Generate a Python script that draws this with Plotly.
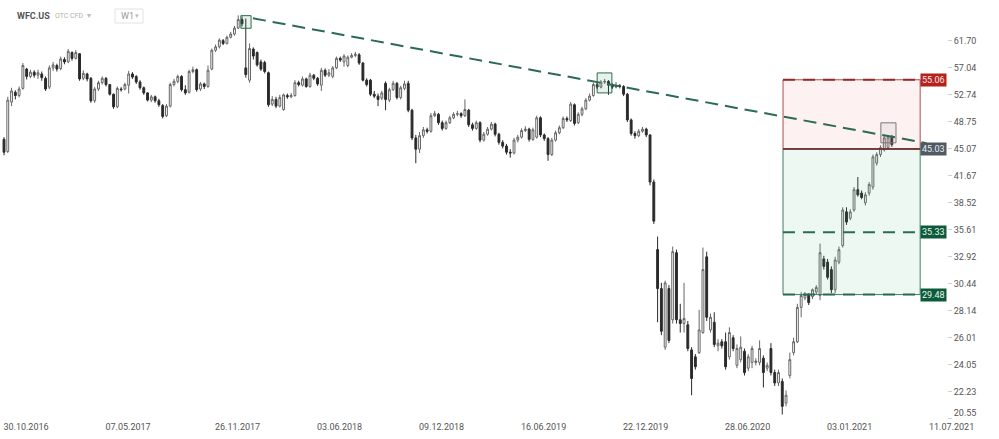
import math
import pandas as pd
import plotly.graph_objects as go

# ---------------- data (weekly candles) ----------------
start_week = "2016-10-30"

opens = [
 46.3,44.7,51.6,53.1,52.6,53.7,56.8,55.6,56.3,55.8,
 56.0,55.3,53.9,57.0,57.4,56.9,58.4,58.0,59.6,58.6,
 59.4,55.3,56.0,55.3,51.8,53.6,54.6,55.3,54.3,52.8,
 50.9,53.6,53.6,54.2,56.0,55.6,54.7,53.8,53.0,51.9,
 52.4,51.8,51.1,49.6,51.0,54.3,54.8,55.6,53.5,53.1,
 56.4,56.7,53.6,54.4,54.0,56.8,60.0,60.6,61.7,61.2,
 62.3,62.9,64.0,65.6,57.0,55.0,60.2,59.6,58.0,57.9,
 56.2,51.3,52.0,51.0,50.5,52.6,52.4,52.6,54.6,54.2,
 55.2,54.0,55.8,55.3,54.2,56.6,55.8,55.6,57.0,58.6,
 58.0,57.4,58.8,59.1,59.2,57.8,55.0,55.0,52.8,52.5,
 52.2,54.5,51.9,53.5,54.5,52.3,53.7,54.5,50.4,46.5,
 45.0,46.8,47.6,47.4,49.6,49.8,48.6,47.8,48.6,49.3,
 49.8,49.9,49.6,50.4,48.3,47.8,48.6,46.2,47.0,47.7,
 48.4,47.0,45.9,45.4,44.6,44.5,46.2,46.6,47.5,47.7,
 46.3,46.6,49.3,46.9,46.4,44.3,46.2,47.2,47.9,49.2,
 48.9,51.2,48.6,49.8,50.6,51.9,52.6,54.3,53.9,54.7,
 54.8,54.2,53.9,54.1,54.0,52.8,49.0,47.1,46.8,47.4,
 47.7,46.9,40.9,33.6,30.0,25.3,30.0,27.4,33.3,27.4,
 27.1,27.0,25.1,24.6,24.9,26.4,32.9,26.6,27.2,25.4,
 25.7,25.7,24.6,26.0,24.0,24.4,25.0,23.8,24.2,24.2,
 24.2,24.5,23.8,25.2,23.5,22.8,22.9,21.5,23.3,24.9,
 25.7,28.4,29.2,29.5,29.3,29.7,29.4,32.7,32.4,31.7,
 29.9,32.4,34.0,37.5,36.8,37.7,40.0,39.6,38.5,39.6,
 40.3,43.2,44.3,44.9,45.2,46.6,
]
highs = [
 46.6,52.4,53.8,53.4,54.0,57.8,57.0,56.7,56.6,56.7,
 56.4,55.6,57.4,58.0,57.7,58.9,58.8,60.2,59.8,60.0,
 59.5,56.6,56.2,55.5,53.9,54.9,55.6,55.5,54.4,52.9,
 54.0,53.9,54.6,56.5,56.3,55.8,55.0,54.0,53.1,52.7,
 52.6,52.1,51.3,51.3,54.6,55.2,55.9,55.8,54.2,56.7,
 57.2,56.9,54.7,54.6,57.4,60.3,61.0,62.1,62.0,62.6,
 63.3,64.4,66.4,66.2,65.8,61.2,60.5,59.8,58.4,58.2,
 56.4,52.5,52.4,52.7,52.9,52.9,53.0,55.0,54.9,55.6,
 55.4,56.2,56.0,55.5,57.0,56.9,56.8,57.3,58.9,58.9,
 59.3,59.1,59.5,59.7,59.5,58.0,55.3,55.2,53.3,52.9,
 53.3,54.8,53.8,54.9,54.7,54.1,54.9,54.9,50.6,46.9,
 47.3,48.0,47.9,50.0,50.3,50.0,48.9,48.9,49.6,50.1,
 50.3,50.1,52.0,50.6,48.6,48.9,48.8,47.3,48.0,48.7,
 48.6,47.2,46.2,45.7,45.0,46.5,46.9,47.8,48.1,47.9,
 47.9,49.6,49.5,47.1,46.6,46.5,47.5,48.2,49.5,49.5,
 51.6,51.4,50.1,50.9,52.2,52.9,54.6,54.6,55.0,55.2,
 55.0,54.5,54.7,54.4,54.2,53.0,49.2,47.4,47.7,48.0,
 47.9,47.0,41.2,34.9,30.5,30.7,30.3,33.9,33.6,28.7,
 30.5,27.3,25.3,24.8,28.2,33.8,33.4,27.9,28.0,25.9,
 25.9,26.4,26.8,26.2,25.5,26.1,25.2,24.8,25.4,24.5,
 25.8,24.7,24.2,25.6,23.7,23.7,23.1,22.3,24.9,26.0,
 28.7,29.7,29.7,29.6,30.0,30.3,34.2,33.0,32.7,32.0,
 32.9,33.9,38.0,38.0,37.8,40.3,41.5,39.9,39.7,40.9,
 44.3,44.6,45.5,46.8,46.9,46.9,
]
lows = [
 44.2,44.5,51.0,52.0,52.3,53.5,55.1,55.3,55.4,55.2,
 54.9,53.3,53.6,56.5,56.4,56.6,57.6,57.8,58.2,58.4,
 54.9,55.0,54.8,51.5,51.5,53.3,54.3,54.0,52.6,50.6,
 50.7,53.2,53.4,52.9,55.2,54.4,53.5,52.7,51.7,51.6,
 51.5,50.9,49.2,49.4,50.8,54.0,54.5,53.2,52.7,52.9,
 56.1,53.2,53.3,53.6,53.8,56.6,59.7,60.3,60.9,61.0,
 62.1,62.6,63.8,64.3,55.4,54.6,58.4,57.2,56.5,56.1,
 50.9,51.0,50.7,50.8,50.3,52.1,52.2,52.4,54.0,54.0,
 53.8,53.8,55.0,54.1,53.3,55.5,55.5,55.3,56.8,58.0,
 57.2,57.1,58.6,58.8,57.5,54.8,54.0,52.5,52.2,51.0,
 51.9,50.4,51.6,53.3,52.0,52.0,53.4,50.1,46.2,43.2,
 44.5,46.5,47.1,47.2,49.4,48.3,47.5,47.6,48.4,49.1,
 49.5,49.3,49.4,48.0,47.5,47.6,45.9,46.0,46.8,47.5,
 46.7,45.6,45.1,44.3,43.9,44.3,45.9,46.4,47.3,46.0,
 46.1,46.4,46.6,46.1,43.5,44.1,46.0,47.0,47.7,48.7,
 48.7,48.2,48.4,49.5,50.4,51.7,52.4,53.6,53.7,54.4,
 52.7,53.6,53.7,53.7,52.5,48.7,46.8,46.4,46.6,47.2,
 46.6,40.5,36.2,27.2,26.2,25.1,25.6,27.1,27.1,26.4,
 26.4,25.0,22.0,23.7,24.8,26.3,27.3,26.4,25.3,25.0,
 25.2,23.7,24.4,25.0,23.8,24.2,23.3,23.6,23.8,24.0,
 24.0,22.5,23.6,23.3,22.6,22.6,20.8,21.3,23.1,24.7,
 25.6,27.6,29.0,28.6,29.1,29.5,29.0,31.7,30.8,29.6,
 29.6,32.2,33.8,36.1,36.6,37.5,39.2,38.9,38.2,39.3,
 40.0,42.9,44.0,44.7,45.0,45.3,
]
closes = [
 44.6,51.9,53.3,52.6,53.6,57.4,55.6,56.3,55.8,56.2,
 55.4,53.6,57.0,57.5,56.8,58.5,58.0,59.8,58.6,59.6,
 55.2,56.1,55.2,51.8,53.6,54.6,55.3,54.3,52.8,50.9,
 53.7,53.5,54.3,56.0,55.5,54.7,53.8,53.0,51.9,52.4,
 51.8,51.2,49.5,51.0,54.3,54.8,55.6,53.5,53.0,56.4,
 56.7,53.5,54.4,54.0,56.6,60.0,60.6,61.8,61.2,62.3,
 62.9,64.0,65.6,64.8,55.9,60.3,59.0,57.5,56.8,56.4,
 51.2,52.0,51.0,52.3,52.7,52.4,52.6,54.6,54.3,55.2,
 54.0,55.8,55.3,54.4,56.6,55.8,56.2,57.0,58.6,58.3,
 59.0,58.8,59.1,59.3,57.8,55.0,54.3,52.8,52.5,52.0,
 53.0,52.0,53.5,54.5,52.3,53.8,54.4,50.4,46.5,45.0,
 46.8,47.6,47.4,49.6,49.9,48.6,47.8,48.6,49.3,49.8,
 49.9,49.6,50.5,48.3,47.8,48.6,46.2,47.0,47.7,48.4,
 47.0,45.9,45.4,44.6,44.5,46.2,46.6,47.5,47.7,46.3,
 47.6,49.3,46.9,46.4,44.3,46.2,47.2,47.9,49.2,49.0,
 51.3,48.5,49.8,50.6,51.9,52.5,54.3,53.9,54.7,54.8,
 54.2,53.9,54.1,54.0,52.8,49.0,47.1,46.8,47.4,47.7,
 46.9,40.9,36.5,30.0,26.5,30.5,25.8,33.4,27.4,27.1,
 27.5,25.2,23.1,23.9,26.6,31.7,27.6,27.6,25.5,25.6,
 25.4,23.9,26.4,25.2,25.2,25.3,23.5,24.6,25.2,24.3,
 25.2,23.5,24.0,23.5,22.8,23.5,21.3,22.0,24.4,25.7,
 28.4,29.4,29.5,28.8,29.9,30.1,33.3,32.0,31.0,29.9,
 32.6,33.6,37.7,36.4,37.5,40.0,39.4,39.1,39.4,40.6,
 44.0,44.3,45.2,46.5,46.6,45.6,
]

# axis ticks
x_tick_dates = ["2016-10-30", "2017-05-07", "2017-11-26", "2018-06-03", "2018-12-09",
                "2019-06-16", "2019-12-22", "2020-06-28", "2021-01-03", "2021-07-11"]
y_tick_values = [20.55, 22.23, 24.05, 26.01, 28.14, 30.44, 32.92, 35.61, 38.52,
                 41.67, 45.07, 48.75, 52.74, 57.04, 61.70]

# drawn objects (price levels / trend line points)
take_profit = 55.06
entry_price = 45.03
mid_level = 35.33
stop_level = 29.48
trend_prices = [65.85, 45.79]

# ---------------- figure ----------------
base = pd.Timestamp(start_week)
dates = [base + pd.Timedelta(weeks=i) for i in range(len(closes))]


def wk(f):
    return base + pd.Timedelta(days=7 * f)


fig = go.Figure()

GREEN = "#2b6b52"
DRED = "#8e2b2b"

# position tool zones
zx0, zx1 = wk(206.2), wk(242.5)
fig.add_trace(go.Scatter(
    x=[zx0, zx1, zx1, zx0, zx0], y=[entry_price, entry_price, take_profit, take_profit, entry_price],
    mode="lines", fill="toself", fillcolor="rgba(240,120,120,0.10)",
    line=dict(color="rgba(160,60,60,0.9)", width=1), hoverinfo="skip", showlegend=False))
fig.add_trace(go.Scatter(
    x=[zx0, zx1, zx1, zx0, zx0], y=[stop_level, stop_level, entry_price, entry_price, stop_level],
    mode="lines", fill="toself", fillcolor="rgba(90,190,140,0.10)",
    line=dict(color="rgba(45,110,85,0.9)", width=1), hoverinfo="skip", showlegend=False))
fig.add_trace(go.Scatter(x=[zx0, zx1], y=[take_profit, take_profit], mode="lines",
                         line=dict(color=DRED, width=2, dash="12px,8px"), hoverinfo="skip", showlegend=False))
fig.add_trace(go.Scatter(x=[zx0, zx1], y=[mid_level, mid_level], mode="lines",
                         line=dict(color=GREEN, width=2, dash="12px,8px"), hoverinfo="skip", showlegend=False))
fig.add_trace(go.Scatter(x=[zx0, zx1], y=[stop_level, stop_level], mode="lines",
                         line=dict(color=GREEN, width=2, dash="12px,8px"), hoverinfo="skip", showlegend=False))
fig.add_trace(go.Scatter(x=[zx0, zx1], y=[entry_price, entry_price], mode="lines",
                         line=dict(color="#6e2a2a", width=1.6), hoverinfo="skip", showlegend=False))


def box(i0, i1, p0, p1, lc, fc):
    fig.add_trace(go.Scatter(
        x=[wk(i0), wk(i1), wk(i1), wk(i0), wk(i0)], y=[p0, p0, p1, p1, p0],
        mode="lines", fill="toself", fillcolor=fc, line=dict(color=lc, width=1),
        hoverinfo="skip", showlegend=False))


box(62.7, 65.4, 63.96, 66.35, GREEN, "rgba(60,150,110,0.12)")
box(157.0, 160.9, 53.0, 56.17, GREEN, "rgba(60,150,110,0.12)")
box(232.1, 236.1, 45.84, 48.58, "#7a7a7a", "rgba(150,150,150,0.10)")

# candles
fig.add_trace(go.Candlestick(
    x=dates, open=opens, high=highs, low=lows, close=closes,
    increasing=dict(line=dict(color="#666666", width=1), fillcolor="#ffffff"),
    decreasing=dict(line=dict(color="#2a2a2a", width=1), fillcolor="#2a2a2a"),
    whiskerwidth=0, hoverinfo="skip", showlegend=False))

# trend line
fig.add_trace(go.Scatter(x=[wk(65.9), wk(244.2)], y=trend_prices, mode="lines",
                         line=dict(color=GREEN, width=2, dash="13px,7px"),
                         hoverinfo="skip", showlegend=False))

# level tags on the price axis
PW = 947.0
tags = [(take_profit, "#b3221d", "#ffe9e9"), (entry_price, "#4f5a63", "#e8eef2"),
        (mid_level, "#0c5a3a", "#e6f6ee"), (stop_level, "#0c5a3a", "#e6f6ee")]
for val, bg, fc in tags:
    fig.add_annotation(x=933 / PW, xref="paper", y=math.log10(val), yref="y",
                       text=f"{val:.2f}", showarrow=False, bgcolor=bg,
                       font=dict(family="Roboto", size=9, color=fc), borderpad=1,
                       xanchor="center", yanchor="middle")

# header
PH = 420.0
fig.add_annotation(x=15 / PW, y=1 - 16.5 / PH, xref="paper", yref="paper", text="<b>WFC.US</b>",
                   showarrow=False, xanchor="left", yanchor="middle",
                   font=dict(family="Roboto", size=9, color="#555555"))
fig.add_annotation(x=53 / PW, y=1 - 16.5 / PH, xref="paper", yref="paper", text="OTC CFD",
                   showarrow=False, xanchor="left", yanchor="middle",
                   font=dict(family="Roboto", size=7, color="#b0b0b0"))
fig.add_annotation(x=85 / PW, y=1 - 16 / PH, xref="paper", yref="paper", text="▾",
                   showarrow=False, xanchor="left", yanchor="middle",
                   font=dict(family="DejaVu Sans", size=8, color="#bbbbbb"))
fig.add_shape(type="rect", xref="paper", yref="paper", x0=115 / PW, x1=143 / PW,
              y0=1 - 23 / PH, y1=1 - 9 / PH, line=dict(color="#e2e2e2", width=1),
              fillcolor="rgba(0,0,0,0)")
fig.add_annotation(x=119 / PW, y=1 - 16.5 / PH, xref="paper", yref="paper", text="W1",
                   showarrow=False, xanchor="left", yanchor="middle",
                   font=dict(family="Roboto", size=9, color="#9a9a9a"))
fig.add_annotation(x=133 / PW, y=1 - 16 / PH, xref="paper", yref="paper", text="▾",
                   showarrow=False, xanchor="left", yanchor="middle",
                   font=dict(family="DejaVu Sans", size=7, color="#bbbbbb"))

# bottom price label sits a little higher (blank second line lifts it)
y_tick_text = [f"{v:.2f}" for v in y_tick_values]
y_tick_text[0] = y_tick_text[0] + "<br> "

fig.update_layout(
    width=999, height=439,
    margin=dict(l=0, r=52, t=0, b=19),
    paper_bgcolor="white", plot_bgcolor="white",
    font=dict(family="Roboto", size=9, color="#555555"),
    showlegend=False, hovermode=False,
    xaxis=dict(
        type="date", range=[wk(-4 / 3.778), wk(943 / 3.778)],
        tickvals=x_tick_dates, tickformat="%d.%m.%Y",
        ticklabelshift=22, showgrid=False, zeroline=False,
        showline=False, ticks="", rangeslider=dict(visible=False),
        tickfont=dict(family="Roboto", size=9, color="#555555"),
    ),
    yaxis=dict(
        type="log", side="right",
        range=[math.log10(20.47), math.log10(69.44)],
        tickvals=y_tick_values, ticktext=y_tick_text,
        showgrid=False, zeroline=False, showline=False,
        ticks="outside", ticklen=4, tickcolor="#d0d0d0",
        tickfont=dict(family="Roboto", size=9, color="#555555"),
    ),
)

fig.write_html("out.html", config={"displayModeBar": False},
               post_script="document.body.style.margin='0';document.body.style.overflow='hidden';")
